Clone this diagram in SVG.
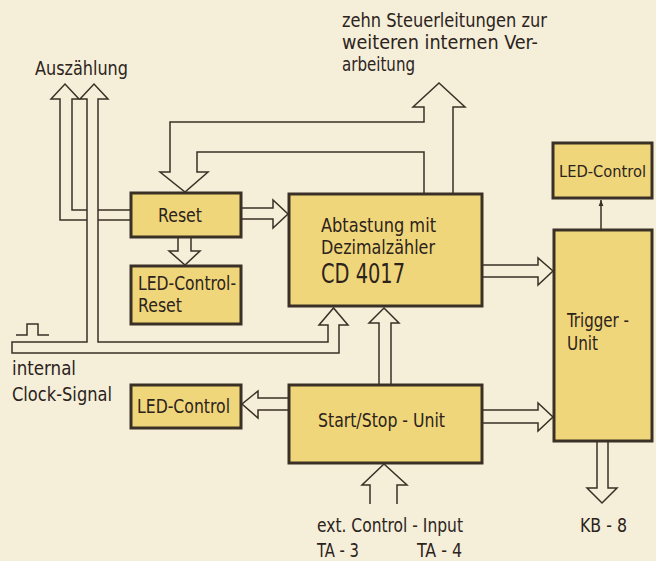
<svg xmlns="http://www.w3.org/2000/svg" width="656" height="561" viewBox="0 0 656 561">
<defs>
<style>
.bg{fill:#f5eed8}
.box{fill:#f0d67a;stroke:#3a3026;stroke-width:3}
.conn{fill:none;stroke:#3a3026;stroke-width:1.5;stroke-linejoin:miter}
.t{font-family:"DejaVu Sans Condensed","DejaVu Sans",sans-serif;font-size:19px;fill:#2b231c}
.big{font-size:27px}
.sm{font-size:16.5px}
</style>
<marker id="ah" viewBox="0 0 10 10" refX="10" refY="5" markerWidth="6" markerHeight="8" orient="auto" markerUnits="userSpaceOnUse">
<path d="M0,1 L10,5 L0,9 z" fill="#3a3026"/>
</marker>
</defs>
<rect class="bg" x="0" y="0" width="656" height="561"/>

<g id="connectors">
<path class="conn" d="M130,220 H98 M87,220 H60 V99 H51 L65,84 L79,99 H72 V210 H87 M98,210 H130"/>
<path class="conn" d="M87,342 H12 V353 H339 V325 H348 L333.5,308 L319,325 H328 V342 H98 V99 H108 L94,84 L80,99 H87 Z"/>
<path class="conn" d="M453,193 V107 H465 L439,83 L413,107 H424 V122 H170 V172 H160 L185,192 L208,172 H197 V152 H424 V193"/>
<path class="conn" d="M242,208 H273 V200 L288,214 L273,228 V219 H242"/>
<path class="conn" d="M178,238 V251 H169 L185,265 L200,251 H191 V238"/>
<path class="conn" d="M483,265 H538 V258 L553,271 L538,285 V277 H483"/>
<path class="conn" d="M379,384 V323 H369 L384,308 L399,323 H391 V384"/>
<path class="conn" d="M288,398 H258 V391 L242,404 L258,418 V410 H288"/>
<path class="conn" d="M483,410 H538 V403 L553,417 L538,431 V423 H483"/>
<path class="conn" d="M370,504 V485 H362 L384,464 L407,485 H397 V504"/>
<path class="conn" d="M597,442 V488 H587 L602,503 L617,488 H608 V442"/>
<line class="conn" x1="601" y1="229" x2="601" y2="200" marker-end="url(#ah)"/>
<path class="conn" d="M16,335 H27 V324 H38 V335 H49"/>
</g>

<g id="reset"><rect class="box" x="131" y="193" width="110" height="44"/>
<text class="t" x="158" y="222" textLength="44" lengthAdjust="spacingAndGlyphs">Reset</text></g>
<g id="led-control-reset"><rect class="box" x="131" y="266" width="110" height="58"/>
<text class="t" x="138" y="290" textLength="98" lengthAdjust="spacingAndGlyphs">LED-Control-</text>
<text class="t" x="138" y="312" textLength="44" lengthAdjust="spacingAndGlyphs">Reset</text></g>
<g id="led-control-left"><rect class="box" x="131" y="385" width="110" height="43"/>
<text class="t" x="137" y="413" textLength="93" lengthAdjust="spacingAndGlyphs">LED-Control</text></g>
<g id="abtastung"><rect class="box" x="289" y="194" width="193" height="112"/>
<text class="t" x="321" y="232" textLength="115" lengthAdjust="spacingAndGlyphs">Abtastung mit</text>
<text class="t" x="321" y="254" textLength="114" lengthAdjust="spacingAndGlyphs">Dezimalzähler</text>
<text class="t big" x="321" y="283" textLength="84" lengthAdjust="spacingAndGlyphs">CD 4017</text></g>
<g id="start-stop"><rect class="box" x="289" y="385" width="193" height="78"/>
<text class="t" x="318" y="427" textLength="127" lengthAdjust="spacingAndGlyphs">Start/Stop - Unit</text></g>
<g id="trigger"><rect class="box" x="554" y="230" width="98" height="211"/>
<text class="t" x="567" y="327" textLength="62" lengthAdjust="spacingAndGlyphs">Trigger -</text>
<text class="t" x="567" y="350" textLength="31" lengthAdjust="spacingAndGlyphs">Unit</text></g>
<g id="led-control-right"><rect class="box" x="553" y="143" width="99" height="55"/>
<text class="t sm" x="559" y="177" textLength="87" lengthAdjust="spacingAndGlyphs">LED-Control</text></g>

<g id="labels">
<text class="t" x="35" y="75" textLength="93" lengthAdjust="spacingAndGlyphs">Auszählung</text>
<text class="t" x="342" y="27" textLength="205" lengthAdjust="spacingAndGlyphs">zehn Steuerleitungen zur</text>
<text class="t" x="342" y="49" textLength="196" lengthAdjust="spacingAndGlyphs">weiteren internen Ver-</text>
<text class="t" x="342" y="71" textLength="73" lengthAdjust="spacingAndGlyphs">arbeitung</text>
<text class="t" x="12" y="375" textLength="64" lengthAdjust="spacingAndGlyphs">internal</text>
<text class="t" x="12" y="401" textLength="100" lengthAdjust="spacingAndGlyphs">Clock-Signal</text>
<text class="t" x="317" y="532" textLength="146" lengthAdjust="spacingAndGlyphs">ext. Control - Input</text>
<text class="t" x="317" y="557" textLength="42" lengthAdjust="spacingAndGlyphs">TA - 3</text>
<text class="t" x="417" y="557" textLength="45" lengthAdjust="spacingAndGlyphs">TA - 4</text>
<text class="t" x="580" y="532" textLength="47" lengthAdjust="spacingAndGlyphs">KB - 8</text>
</g>
</svg>
